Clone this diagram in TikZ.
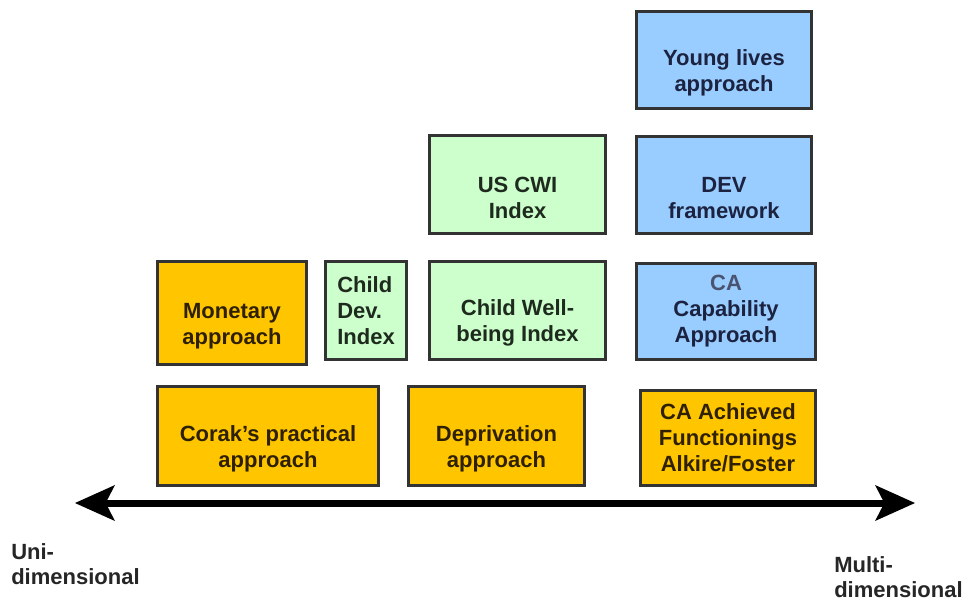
\documentclass[tikz,border=0pt]{standalone}
\usepackage{fontspec}
\setmainfont{Liberation Sans}
\usetikzlibrary{arrows.meta}

\definecolor{gold}{HTML}{FFC600}
\definecolor{mint}{HTML}{CCFFCC}
\definecolor{sky}{HTML}{99CCFF}
\definecolor{edge}{HTML}{333333}
\definecolor{navy}{HTML}{1C2340}
\definecolor{cocoa}{HTML}{2E2000}
\definecolor{pine}{HTML}{1E2A1E}
\definecolor{slate}{HTML}{4A5470}

\newcommand{\toppad}{\rule{0pt}{31pt}}

\begin{document}
\begin{tikzpicture}[x=0.75pt, y=-0.75pt,
	box/.style={draw=edge, line width=2.2pt, align=center, inner sep=0pt, font=\bfseries\fontsize{16.5}{19.5}\selectfont},
	money/.style={box, fill=gold, text=cocoa},
	index/.style={box, fill=mint, text=pine},
	frame/.style={box, fill=sky, text=navy},
	dimlabel/.style={anchor=north west, align=left, inner sep=0pt, text=black!85, font=\bfseries\fontsize{16.5}{18.75}\selectfont},
	axis/.style={line width=5.25pt, {Stealth[length=30pt, width=27pt, inset=7pt, line width=0pt]}-{Stealth[length=30pt, width=27pt, inset=7pt, line width=0pt]}}]

	\useasboundingbox (0, 0) rectangle (973, 601);

	\node[frame, minimum width=131.25pt, minimum height=72.75pt] (younglives) at (724, 60) {\toppad Young lives\\approach};
	\node[frame, minimum width=131.25pt, minimum height=72.75pt] (devframe) at (724, 185) {\toppad DEV\\framework};
	\node[frame, minimum width=134.25pt, minimum height=72pt] (capability) at (726, 311.5) {\textcolor{slate}{CA}\\Capability\\Approach};
	\node[money, minimum width=131.25pt, minimum height=71.25pt] (achieved) at (728, 438) {CA Achieved\\Functionings\\Alkire/Foster};

	\node[index, minimum width=132pt, minimum height=73.5pt] (uscwi) at (517.5, 184.5) {\toppad US CWI\\Index};
	\node[index, minimum width=132pt, minimum height=73.5pt] (wellbeing) at (517.5, 310.5) {\toppad Child Well-\\being Index};
	\node[index, align=left, minimum width=60.75pt, minimum height=73.5pt] (childdev) at (366, 310.5) {Child\\Dev.\\Index};
	\node[money, minimum width=111.75pt, minimum height=77.25pt] (monetary) at (232, 313) {\toppad Monetary\\approach};

	\node[money, minimum width=165.75pt, minimum height=74.25pt] (corak) at (268, 436) {\toppad Corak’s practical\\approach};
	\node[money, minimum width=132pt, minimum height=74.25pt] (deprivation) at (496.5, 436) {\toppad Deprivation\\approach};

	\coordinate[] (unitip) at (75, 503);
	\coordinate[] (multitip) at (915, 503);
	\draw[axis] (unitip) -- (multitip);

	\node[dimlabel] (uni) at (11, 543) {Uni-\\dimensional};
	\node[dimlabel] (multi) at (834, 556) {Multi-\\dimensional};
\end{tikzpicture}
\end{document}
